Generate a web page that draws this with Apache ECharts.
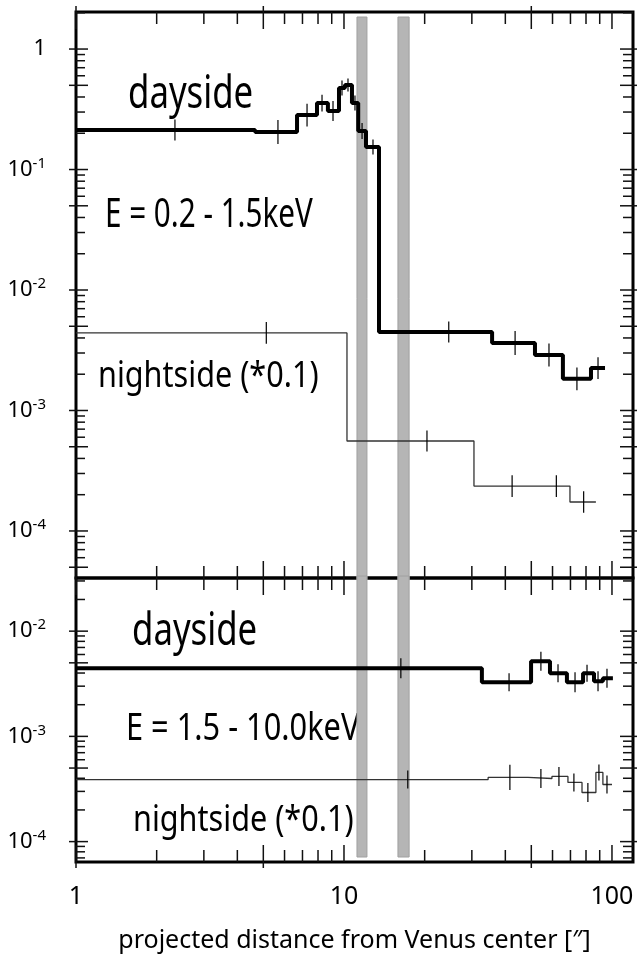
<!DOCTYPE html>
<html>
<head>
<meta charset="utf-8">
<script src="https://cdn.jsdelivr.net/npm/echarts@6/dist/echarts.min.js"></script>
<style>
  html, body { margin: 0; padding: 0; background: #fff; }
  #chart { width: 638px; height: 955px; }
</style>
</head>
<body>
<div id="chart"></div>
<script>
// axis ranges (projected distance ["], counts)
const xRange = [1, 119.8]
const topRange = [4.07e-5, 2.03]
const botRange = [6.4e-5, 0.032]

// tick marks: mantissa x 10^decade
const tickMantissas = [1, 2, 3, 4, 5, 6, 7, 8, 9]
const xDecades = [0, 1, 2]
const topDecades = [-5, -4, -3, -2, -1, 0]
const botDecades = [-5, -4, -3, -2]

// grey bands (limb positions)
const bandEdges = [[11.18, 12.18], [15.9, 17.5]]

// upper panel  E = 0.2 - 1.5keV, dayside
const softDayEdges = [1, 4.66, 6.68, 7.93, 8.71, 9.58, 10.08, 10.71, 11.3, 12.08, 13.51, 35.7, 51.6, 65.6, 83.5, 94.2]
const softDayValues = [0.213, 0.205, 0.283, 0.356, 0.306, 0.475, 0.503, 0.356, 0.209, 0.154, 0.00448, 0.00363, 0.00289, 0.00183, 0.00225]
const softDayErrX = [2.34, 5.67, 7.28, 8.28, 9.1, 9.83, 10.35, 10.99, 11.68, 12.83, 24.6, 43.5, 58.2, 74.0, 88.7]
const softDayErr = [0.087, 0.1, 0.095, 0.07, 0.083, 0.062, 0.054, 0.062, 0.066, 0.062, 0.087, 0.1, 0.095, 0.095, 0.09]

// upper panel, nightside (*0.1)
const softNightEdges = [1, 10.26, 30.55, 54.3, 69.7, 87.1]
const softNightValues = [0.0044, 0.000558, 0.000236, 0.000236, 0.000174]
const softNightErrX = [5.13, 20.4, 42.4, 62.0, 78.4]
const softNightErr = [0.09, 0.087, 0.09, 0.09, 0.09]

// lower panel  E = 1.5 - 10.0keV, dayside
const hardDayEdges = [1, 32.7, 49.9, 58.7, 67.9, 78.0, 85.7, 92.5, 100.8]
const hardDayValues = [0.00444, 0.00327, 0.00518, 0.00398, 0.00327, 0.00398, 0.00334, 0.00357]
const hardDayErrX = [16.3, 41.3, 54.3, 62.9, 72.8, 80.7, 88.7, 95.8]
const hardDayErr = [0.095, 0.086, 0.09, 0.086, 0.095, 0.08, 0.095, 0.09]

// lower panel, nightside (*0.1)
const hardNightEdges = [1, 34.5, 48.6, 59.7, 68.5, 77.3, 87.1, 92.5, 100]
const hardNightValues = [0.000389, 0.000407, 0.000398, 0.000416, 0.000365, 0.000293, 0.000454, 0.000349]
const hardNightErrX = [17.3, 41.6, 54.3, 63.4, 72.1, 81.3, 89.4, 95.8]
const hardNightErr = [0.086, 0.12, 0.09, 0.09, 0.086, 0.09, 0.076, 0.086]

const FONT = '"Noto Sans", "Open Sans", sans-serif'

function steps (edges, values) {
  return edges.map((e, i) => [e, values[Math.min(i, values.length - 1)]])
}

function errData (xs, values, err) {
  return xs.map((x, i) => [x, values[i] * Math.pow(10, -err[i]), values[i] * Math.pow(10, err[i])])
}

function tickValues (decades, range) {
  const out = []
  decades.forEach(d => {
    tickMantissas.forEach(m => {
      const v = m * Math.pow(10, d)
      if (v >= range[0] * 0.9999 && v <= range[1] * 1.0001) out.push(v)
    })
  })
  return out
}

function mantissa (v) {
  return Math.round(v / Math.pow(10, Math.floor(Math.log10(v) + 1e-9)))
}

function powLabel (v) {
  const e = Math.log10(v)
  const r = Math.round(e)
  if (Math.abs(e - r) > 1e-6) return ''
  return r === 0 ? '1' : '10{sup|' + r + '}'
}

function plainLabel (v) {
  const e = Math.log10(v)
  const r = Math.round(e)
  if (Math.abs(e - r) > 1e-6) return ''
  return String(Math.pow(10, r))
}

function bandRender (yRange, padTop, padBottom) {
  return function (params, api) {
    const a = api.coord([api.value(0), yRange[1]])
    const b = api.coord([api.value(1), yRange[0]])
    return {
      type: 'rect',
      shape: { x: a[0], y: a[1] + padTop, width: b[0] - a[0], height: b[1] - a[1] - padTop - padBottom },
      style: { fill: '#b5b5b5', stroke: '#a0a0a0', lineWidth: 1 }
    }
  }
}

function errRender (params, api) {
  const p1 = api.coord([api.value(0), api.value(1)])
  const p2 = api.coord([api.value(0), api.value(2)])
  return { type: 'line', shape: { x1: p1[0], y1: p1[1], x2: p2[0], y2: p2[1] }, style: { stroke: '#000', lineWidth: 1.2 } }
}

const labels = [
  { id: 't1', type: 'text', x: 128, y: 95, scaleX: 0.79, scaleY: 1.05, style: { text: 'dayside', fontSize: 44, fontFamily: FONT, fill: '#000', verticalAlign: 'middle' } },
  { id: 't2', type: 'text', x: 105, y: 216, scaleX: 0.78, scaleY: 1.05, style: { text: 'E = 0.2 - 1.5keV', fontSize: 38, fontFamily: FONT, fill: '#000', verticalAlign: 'middle' } },
  { id: 't3', type: 'text', x: 98, y: 377, scaleX: 0.85, style: { text: 'nightside (*0.1)', fontSize: 36, fontFamily: FONT, fill: '#000', verticalAlign: 'middle' } },
  { id: 't4', type: 'text', x: 132, y: 632, scaleX: 0.79, scaleY: 1.05, style: { text: 'dayside', fontSize: 44, fontFamily: FONT, fill: '#000', verticalAlign: 'middle' } },
  { id: 't5', type: 'text', x: 126, y: 729, scaleX: 0.81, style: { text: 'E = 1.5 - 10.0keV', fontSize: 38, fontFamily: FONT, fill: '#000', verticalAlign: 'middle' } },
  { id: 't6', type: 'text', x: 133, y: 821, scaleX: 0.85, style: { text: 'nightside (*0.1)', fontSize: 36, fontFamily: FONT, fill: '#000', verticalAlign: 'middle' } }
]

const option = {
  animation: false,
  grid: [
    { left: 76, right: 5, top: 12, height: 566, show: true, borderColor: '#000', borderWidth: 3, outerBoundsMode: 'none' },
    { left: 76, right: 5, top: 578, height: 284, show: true, borderColor: '#000', borderWidth: 3, outerBoundsMode: 'none' }
  ],
  xAxis: [
    {
      gridIndex: 0, type: 'log', min: xRange[0], max: xRange[1], splitNumber: 2,
      axisLine: { show: false }, axisTick: { show: false }, axisLabel: { show: false }, splitLine: { show: false }
    },
    {
      gridIndex: 1, type: 'log', min: xRange[0], max: xRange[1], splitNumber: 2,
      axisLine: { show: false }, axisTick: { show: false }, splitLine: { show: false },
      axisLabel: { formatter: plainLabel, fontSize: 25, color: '#000', margin: 22, fontFamily: FONT },
      name: 'projected distance from Venus center [\u2033]',
      nameLocation: 'middle',
      nameGap: 66,
      nameTextStyle: { fontSize: 25, color: '#000', fontFamily: FONT }
    }
  ],
  yAxis: [
    {
      gridIndex: 0, type: 'log', min: topRange[0], max: topRange[1], splitNumber: 5,
      axisLine: { show: false }, axisTick: { show: false }, splitLine: { show: false },
      axisLabel: {
        formatter: powLabel, fontSize: 22, color: '#000', margin: 30, fontFamily: FONT,
        rich: { sup: { fontSize: 15, color: '#000', fontFamily: FONT, padding: [0, 0, 12, 0] } }
      }
    },
    {
      gridIndex: 1, type: 'log', min: botRange[0], max: botRange[1], splitNumber: 3,
      axisLine: { show: false }, axisTick: { show: false }, splitLine: { show: false },
      axisLabel: {
        formatter: powLabel, fontSize: 22, color: '#000', margin: 30, fontFamily: FONT,
        rich: { sup: { fontSize: 15, color: '#000', fontFamily: FONT, padding: [0, 0, 12, 0] } }
      }
    }
  ],
  series: [
    // grey bands, continuous across the two panels
    { type: 'custom', xAxisIndex: 0, yAxisIndex: 0, z: 1, clip: false, data: bandEdges, renderItem: bandRender(topRange, 5, -2) },
    { type: 'custom', xAxisIndex: 1, yAxisIndex: 1, z: 1, clip: false, data: bandEdges, renderItem: bandRender(botRange, -2, 5) },
    // histograms
    {
      name: 'dayside 0.2-1.5keV', type: 'line', xAxisIndex: 0, yAxisIndex: 0, z: 3, step: 'end',
      showSymbol: false, lineStyle: { color: '#000', width: 4 }, data: steps(softDayEdges, softDayValues)
    },
    {
      name: 'nightside 0.2-1.5keV', type: 'line', xAxisIndex: 0, yAxisIndex: 0, z: 3, step: 'end',
      showSymbol: false, lineStyle: { color: '#333', width: 1.3 }, data: steps(softNightEdges, softNightValues)
    },
    {
      name: 'dayside 1.5-10keV', type: 'line', xAxisIndex: 1, yAxisIndex: 1, z: 3, step: 'end',
      showSymbol: false, lineStyle: { color: '#000', width: 4 }, data: steps(hardDayEdges, hardDayValues)
    },
    {
      name: 'nightside 1.5-10keV', type: 'line', xAxisIndex: 1, yAxisIndex: 1, z: 3, step: 'end',
      showSymbol: false, lineStyle: { color: '#333', width: 1.3 }, data: steps(hardNightEdges, hardNightValues)
    },
    // error bars
    { type: 'custom', xAxisIndex: 0, yAxisIndex: 0, z: 4, encode: { x: 0, y: [1, 2] }, data: errData(softDayErrX, softDayValues, softDayErr), renderItem: errRender },
    { type: 'custom', xAxisIndex: 0, yAxisIndex: 0, z: 4, encode: { x: 0, y: [1, 2] }, data: errData(softNightErrX, softNightValues, softNightErr), renderItem: errRender },
    { type: 'custom', xAxisIndex: 1, yAxisIndex: 1, z: 4, encode: { x: 0, y: [1, 2] }, data: errData(hardDayErrX, hardDayValues, hardDayErr), renderItem: errRender },
    { type: 'custom', xAxisIndex: 1, yAxisIndex: 1, z: 4, encode: { x: 0, y: [1, 2] }, data: errData(hardNightErrX, hardNightValues, hardNightErr), renderItem: errRender }
  ],
  graphic: labels
}

const myChart = echarts.init(document.getElementById('chart'))
myChart.setOption(option)

// frame ticks: positions come from the chart's own log scales
function tickLine (id, x1, y1, x2, y2) {
  return { id, type: 'line', z: 100, silent: true, shape: { x1, y1, x2, y2 }, style: { stroke: '#111', lineWidth: 1.5 } }
}

function frameTicks (grid, yRange, outerTop, outerBottom) {
  const out = []
  const px = (x, y) => myChart.convertToPixel({ gridIndex: grid }, [x, y])
  tickValues(xDecades, xRange).forEach((v, i) => {
    const m = mantissa(v)
    const len = (m === 1 || m === 5) ? 17 : 12
    const outward = m === 5 || v < 1.01
    const top = px(v, yRange[1])
    const bot = px(v, yRange[0])
    out.push(tickLine('g' + grid + 'xt' + i, top[0], top[1] - (outerTop && outward ? 6 : 0), top[0], top[1] + len))
    out.push(tickLine('g' + grid + 'xb' + i, bot[0], bot[1] + (outerBottom && outward ? 6 : 0), bot[0], bot[1] - len))
  })
  tickValues(grid === 0 ? topDecades : botDecades, yRange).forEach((v, i) => {
    const m = mantissa(v)
    const major = m === 1 || m === 5
    const left = px(xRange[0], v)
    const right = px(xRange[1], v)
    out.push(major
      ? tickLine('g' + grid + 'yl' + i, left[0] - 7, left[1], left[0] + 12, left[1])
      : tickLine('g' + grid + 'yl' + i, left[0], left[1], left[0] + 9, left[1]))
    out.push(major
      ? tickLine('g' + grid + 'yr' + i, right[0] - 13, right[1], right[0] + 4, right[1])
      : tickLine('g' + grid + 'yr' + i, right[0] - 10, right[1], right[0], right[1]))
  })
  return out
}

const ticks = frameTicks(0, topRange, true, false).concat(frameTicks(1, botRange, false, true))
myChart.setOption({ graphic: labels.concat(ticks) })
</script>
</body>
</html>
